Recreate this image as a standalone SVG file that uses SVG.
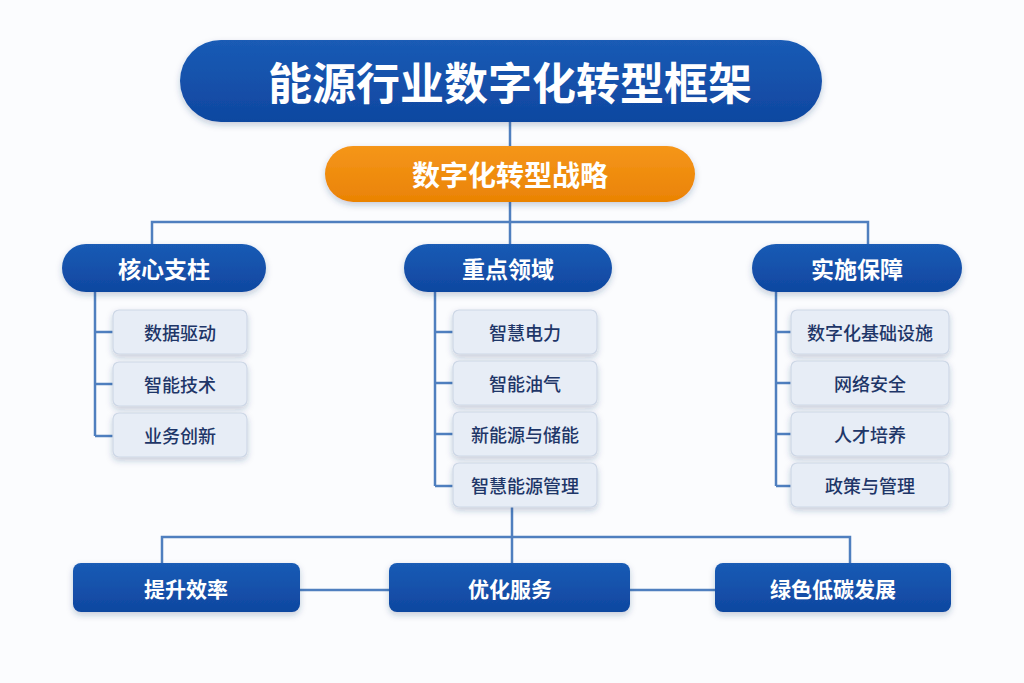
<svg xmlns="http://www.w3.org/2000/svg" width="1024" height="683" viewBox="0 0 1024 683">
<defs>
<linearGradient id="bg" x1="0" y1="0" x2="0" y2="1"><stop offset="0" stop-color="#1a5bb5"/><stop offset="1" stop-color="#0f47a0"/></linearGradient>
<linearGradient id="og" x1="0" y1="0" x2="0" y2="1"><stop offset="0" stop-color="#f5961a"/><stop offset="1" stop-color="#ea8304"/></linearGradient>
<filter id="sh" x="-10%" y="-20%" width="120%" height="150%"><feDropShadow dx="0" dy="3" stdDeviation="3" flood-color="#1a3a70" flood-opacity="0.25"/></filter>
</defs>
<style>
text{font-family:"Noto Sans CJK SC","Noto Sans",sans-serif;text-anchor:middle;dominant-baseline:central}
.b{fill:url(#bg);filter:url(#sh)}
.lb{fill:#e7edf6;stroke:#cdd7e6;stroke-width:1.2;filter:url(#sh)}
.w{fill:#fff;font-weight:700}
.s{fill:#1e3668;font-size:18px;font-weight:500}
.c{fill:none;stroke:#4f7fbf;stroke-width:2.5}
</style>
<rect width="1024" height="683" fill="#fbfcfe"/>
<g id="connectors">
<path class="c" d="M510 122V146M510 202V222M152 244V222H868V244M510 222V244"/>
<path class="c" d="M95 292V436M95 332H113M95 384H113M95 436H113"/>
<path class="c" d="M435 292V486M435 332H453M435 383H453M435 434H453M435 486H453"/>
<path class="c" d="M776 292V486M776 332H791M776 383H791M776 434H791M776 486H791"/>
<path class="c" d="M512 507V537M162 563V537H850V563M512 537V563M300 590H389M630 590H715"/>
</g>
<g id="title"><rect class="b" x="180" y="40" width="642" height="82" rx="41"/><text class="w" x="510" y="81" font-size="44">能源行业数字化转型框架</text></g>
<g id="strategy"><rect x="325" y="146" width="370" height="56" rx="28" fill="url(#og)" filter="url(#sh)"/><text class="w" x="510" y="174" font-size="28">数字化转型战略</text></g>
<g id="pillar"><rect class="b" x="62" y="244" width="204" height="48" rx="24"/><text class="w" x="164" y="268" font-size="23">核心支柱</text></g>
<g id="focus"><rect class="b" x="404" y="244" width="208" height="48" rx="24"/><text class="w" x="508" y="268" font-size="23">重点领域</text></g>
<g id="support"><rect class="b" x="752" y="244" width="210" height="48" rx="24"/><text class="w" x="857" y="268" font-size="23">实施保障</text></g>
<g id="l1"><rect class="lb" x="113" y="310" width="134" height="44" rx="6"/><text class="s" x="180" y="332">数据驱动</text></g>
<g id="l2"><rect class="lb" x="113" y="362" width="134" height="44" rx="6"/><text class="s" x="180" y="384">智能技术</text></g>
<g id="l3"><rect class="lb" x="113" y="413" width="134" height="44" rx="6"/><text class="s" x="180" y="435">业务创新</text></g>
<g id="m1"><rect class="lb" x="453" y="310" width="144" height="44" rx="6"/><text class="s" x="525" y="332">智慧电力</text></g>
<g id="m2"><rect class="lb" x="453" y="361" width="144" height="44" rx="6"/><text class="s" x="525" y="383">智能油气</text></g>
<g id="m3"><rect class="lb" x="453" y="412" width="144" height="44" rx="6"/><text class="s" x="525" y="434">新能源与储能</text></g>
<g id="m4"><rect class="lb" x="453" y="463" width="144" height="44" rx="6"/><text class="s" x="525" y="485">智慧能源管理</text></g>
<g id="r1"><rect class="lb" x="791" y="310" width="158" height="44" rx="6"/><text class="s" x="870" y="332">数字化基础设施</text></g>
<g id="r2"><rect class="lb" x="791" y="361" width="158" height="44" rx="6"/><text class="s" x="870" y="383">网络安全</text></g>
<g id="r3"><rect class="lb" x="791" y="412" width="158" height="44" rx="6"/><text class="s" x="870" y="434">人才培养</text></g>
<g id="r4"><rect class="lb" x="791" y="463" width="158" height="44" rx="6"/><text class="s" x="870" y="485">政策与管理</text></g>
<g id="o1"><rect class="b" x="73" y="563" width="227" height="49" rx="8"/><text class="w" x="186" y="588" font-size="21">提升效率</text></g>
<g id="o2"><rect class="b" x="389" y="563" width="241" height="49" rx="8"/><text class="w" x="510" y="588" font-size="21">优化服务</text></g>
<g id="o3"><rect class="b" x="715" y="563" width="236" height="49" rx="8"/><text class="w" x="833" y="588" font-size="21">绿色低碳发展</text></g>
</svg>
